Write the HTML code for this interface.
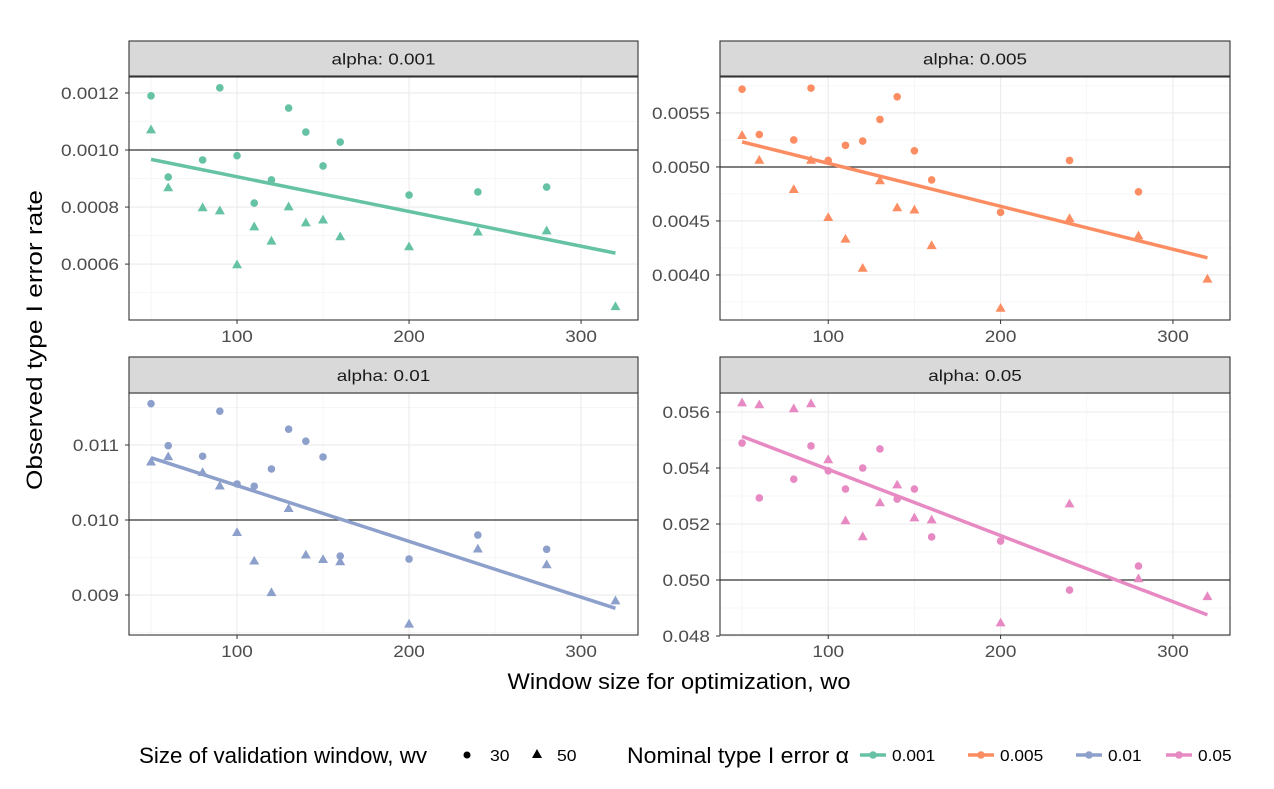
<!DOCTYPE html>
<html><head><meta charset="utf-8"><style>
body{margin:0;background:#fff;}
svg{display:block;font-family:"Liberation Sans",sans-serif;}
</style></head><body>
<svg id="chart" width="1274" height="789" xmlns="http://www.w3.org/2000/svg"></svg>
<script>
const xVals=[50,60,80,90,100,110,120,130,140,150,160,200,240,280,320];
const panelTitles=["alpha: 0.001","alpha: 0.005","alpha: 0.01","alpha: 0.05"];
const alphaRef=[0.001,0.005,0.01,0.05];
const colors=["#66c2a5","#fc8d62","#8da0cb","#e78ac3"];
const circ1=[0.00119,0.000905,0.000965,0.001218,0.00098,0.000814,0.000895,0.001147,0.001063,0.000944,0.001028,0.000842,0.000853,0.00087,null];
const tri1=[0.00107,0.000867,0.000797,0.000786,0.000597,0.00073,0.00068,0.0008,0.000744,0.000754,0.000695,0.00066,0.000712,0.000716,0.00045];
const circ2=[0.00572,0.0053,0.00525,0.00573,0.00506,0.0052,0.00524,0.00544,0.00565,0.00515,0.00488,0.00458,0.00506,0.00477,null];
const tri2=[0.00529,0.00506,0.00479,0.00506,0.00453,0.00433,0.00406,0.00487,0.00462,0.0046,0.00427,0.00369,0.00452,0.00436,0.00396];
const circ3=[0.01155,0.01099,0.01085,0.01145,0.01048,0.01045,0.01068,0.01121,0.01105,0.01084,0.00952,0.00948,0.0098,0.00961,null];
const tri3=[0.01077,0.01084,0.01063,0.01045,0.00983,0.00945,0.00903,0.01015,0.00953,0.00947,0.00944,0.00861,0.00961,0.0094,0.00892];
const circ4=[0.05489,0.05293,0.0536,0.05479,0.0539,0.05325,0.054,0.05468,0.05289,0.05325,0.05154,0.05139,0.04964,0.0505,null];
const tri4=[0.05632,0.05625,0.05611,0.05629,0.05429,0.05211,0.05154,0.05275,0.05339,0.05221,0.05214,0.04846,0.05271,0.05004,0.0494];
const yTicks=[[0.0006,0.0008,0.0010,0.0012],[0.0040,0.0045,0.0050,0.0055],[0.009,0.010,0.011],[0.048,0.050,0.052,0.054,0.056]];
const yTickLabels=[["0.0006","0.0008","0.0010","0.0012"],["0.0040","0.0045","0.0050","0.0055"],["0.009","0.010","0.011"],["0.048","0.050","0.052","0.054","0.056"]];
const yDomains=[[0.000404,0.001256],[0.003583,0.005833],[0.008467,0.011693],[0.048036,0.056679]];
const xTicks=[100,200,300];
const xDomain=[37.2,333.1];
const circles=[circ1,circ2,circ3,circ4], tris=[tri1,tri2,tri3,tri4];

const NS="http://www.w3.org/2000/svg";
const svg=document.getElementById('chart');
function mk(tag,attrs,parent){const e=document.createElementNS(NS,tag);for(const k in attrs)e.setAttribute(k,attrs[k]);(parent||svg).appendChild(e);return e;}
function widen(el,f){const w=el.getComputedTextLength();el.setAttribute('textLength',w*f);el.setAttribute('lengthAdjust','spacingAndGlyphs');}
const boxes=[[129,77,638,320],[720,77,1230,320],[129,393,638,635],[720,393,1230,635]];
const strips=[[41,76],[41,76],[357,393],[357,393]];
for(let p=0;p<4;p++){
  const [x0,y0,x1,y1]=boxes[p];
  const g=mk('g',{});
  
  
  const sx=v=>x0+(v-xDomain[0])/(xDomain[1]-xDomain[0])*(x1-x0);
  const [d0,d1]=yDomains[p];
  const sy=v=>y1-(v-d0)/(d1-d0)*(y1-y0);
  const yt=yTicks[p];const step=yt[1]-yt[0];
  for(let v=yt[0]-step/2;v<d1;v+=step){if(v>d0)mk('line',{x1:x0,x2:x1,y1:sy(v),y2:sy(v),stroke:'#f0f0f0','stroke-width':0.6},g);}
  for(let v=50;v<=350;v+=100){if(v>xDomain[0]&&v<xDomain[1])mk('line',{x1:sx(v),x2:sx(v),y1:y0,y2:y1,stroke:'#f0f0f0','stroke-width':0.6},g);}
  yt.forEach(v=>mk('line',{x1:x0,x2:x1,y1:sy(v),y2:sy(v),stroke:'#ebebeb','stroke-width':1.1},g));
  xTicks.forEach(v=>mk('line',{x1:sx(v),x2:sx(v),y1:y0,y2:y1,stroke:'#ebebeb','stroke-width':1.1},g));
  const rl=mk('line',{x1:x0,x2:x1,y1:sy(alphaRef[p]),y2:sy(alphaRef[p]),stroke:'#333','stroke-width':1.3},g);
  
  let n=0,sxx=0,sxs=0,sys=0,sxy=0;
  [circles[p],tris[p]].forEach(arr=>arr.forEach((v,i)=>{if(v!=null){n++;sxs+=xVals[i];sys+=v;sxx+=xVals[i]*xVals[i];sxy+=xVals[i]*v;}}));
  const b=(n*sxy-sxs*sys)/(n*sxx-sxs*sxs),a=(sys-b*sxs)/n;
  const fl=mk('line',{x1:sx(50),x2:sx(320),y1:sy(a+b*50),y2:sy(a+b*320),stroke:colors[p],'stroke-width':3.5},g);
  
  circles[p].forEach((v,i)=>{if(v==null)return;const c=mk('circle',{cx:sx(xVals[i]),cy:sy(v),r:3.8,fill:colors[p]},g);
    
    });
  tris[p].forEach((v,i)=>{const cx=sx(xVals[i]),cy=sy(v);const t=mk('polygon',{points:`${cx},${cy-5.5} ${cx-5},${cy+3.3} ${cx+5},${cy+3.3}`,fill:colors[p]},g);
    
    });
  mk('rect',{x:x0,y:y0,width:x1-x0,height:y1-y0,fill:'none',stroke:'#333','stroke-width':1.1},g);
  const [s0,s1]=strips[p];
  mk('rect',{x:x0,y:s0,width:x1-x0,height:s1-s0,fill:'#d9d9d9',stroke:'#333','stroke-width':1.1},g);
  const st=mk('text',{x:(x0+x1)/2,y:(s0+s1)/2+6,'text-anchor':'middle','font-size':16,fill:'#1a1a1a'},g);
  st.textContent=panelTitles[p];
  
  widen(st,1.18);
  yt.forEach((v,i)=>{mk('line',{x1:x0-4,x2:x0,y1:sy(v),y2:sy(v),stroke:'#333'},g);
    const t=mk('text',{x:x0-10,y:sy(v)+6,'text-anchor':'end','font-size':16.5,fill:'#4d4d4d'},g);t.textContent=yTickLabels[p][i];widen(t,1.15);});
  xTicks.forEach(v=>{mk('line',{x1:sx(v),x2:sx(v),y1:y1,y2:y1+4,stroke:'#333'},g);
    const t=mk('text',{x:sx(v),y:y1+22,'text-anchor':'middle','font-size':16.5,fill:'#4d4d4d'},g);t.textContent=v;widen(t,1.15);});
}
let t=mk('text',{x:679,y:689,'text-anchor':'middle','font-size':22});t.textContent='Window size for optimization,  wo';

t.setAttribute('textLength',343);t.setAttribute('lengthAdjust','spacingAndGlyphs');
t=mk('text',{x:0,y:0,'text-anchor':'middle','font-size':22,transform:'translate(42,340) rotate(-90)'});t.textContent='Observed type I error rate';

t.setAttribute('textLength',300);t.setAttribute('lengthAdjust','spacingAndGlyphs');
t=mk('text',{x:139,y:763,'font-size':22});t.textContent='Size of validation window, wv';

t.setAttribute('textLength',288);t.setAttribute('lengthAdjust','spacingAndGlyphs');
mk('circle',{cx:467,cy:755,r:3.5,fill:'#000'});
t=mk('text',{x:490,y:761,'font-size':16});t.textContent='30';widen(t,1.1);
mk('polygon',{points:'537,749 532,758 542,758',fill:'#000'});
t=mk('text',{x:557,y:761,'font-size':16});t.textContent='50';widen(t,1.1);
t=mk('text',{x:627,y:763,'font-size':22});t.textContent='Nominal type I error  α';

t.setAttribute('textLength',222);t.setAttribute('lengthAdjust','spacingAndGlyphs');
const legLabels=["0.001","0.005","0.01","0.05"];const legX=[873,981,1089,1179];
for(let i=0;i<4;i++){mk('line',{x1:legX[i]-13,x2:legX[i]+13,y1:755,y2:755,stroke:colors[i],'stroke-width':3.5});
  mk('circle',{cx:legX[i],cy:755,r:3.8,fill:colors[i]});
  const l=mk('text',{x:legX[i]+19,y:761,'font-size':16});l.textContent=legLabels[i];widen(l,1.08);
  }
</script>
</body></html>
